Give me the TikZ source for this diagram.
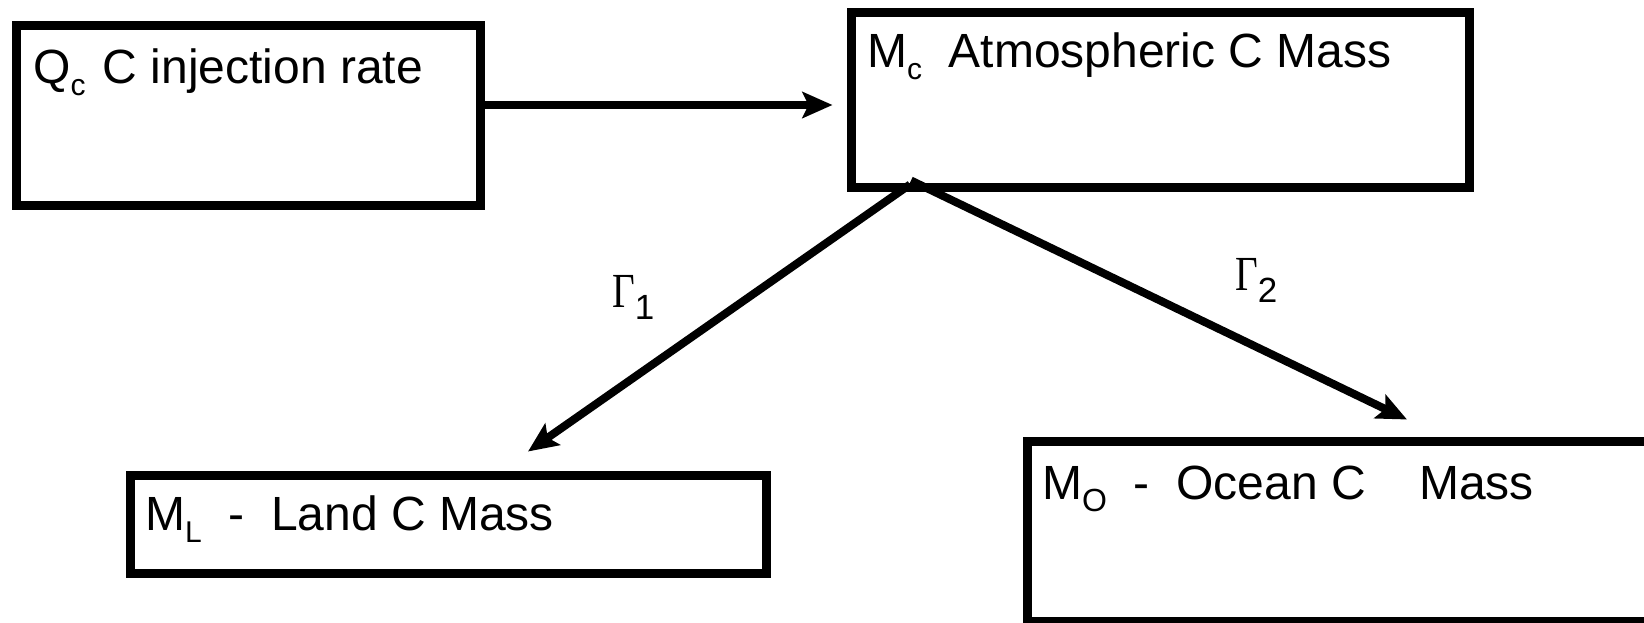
\documentclass[tikz,border=0pt]{standalone}
\usepackage{fontspec}
\setmainfont{Liberation Sans}
\newfontfamily\gamfont{Liberation Serif}
\usetikzlibrary{arrows.meta}
\newcommand{\lsub}[2][30]{\raisebox{-12pt}{\fontsize{#1}{#1}\selectfont #2}}
\newcommand{\gam}[1]{{\gamfont\fontsize{49}{49}\selectfont\scalebox{0.8}[1]{Γ}}\raisebox{-12.5pt}{\fontsize{35}{35}\selectfont #1}}
\begin{document}
\begin{tikzpicture}[x=1pt,y=-1pt,
  box/.style={draw, rectangle, line width=9pt, inner sep=0pt},
  txt/.style={anchor=base west, inner sep=0pt, font=\fontsize{48}{48}\selectfont},
  flow/.style={line width=8pt, -{Stealth[length=30pt,width=26pt,inset=6pt]}}
]
\useasboundingbox (0,0) rectangle (1644,622);
\clip (0,0) rectangle (1644,622);
\fill[white] (0,0) rectangle (1644,622);

\node[box, minimum width=464pt, minimum height=180pt] (q) at (248,115) {};
\node[box, minimum width=618pt, minimum height=175pt] (mc) at (1160,99.5) {};
\node[box, minimum width=636pt, minimum height=98pt] (ml) at (448,524) {};
\node[box, minimum width=660pt, minimum height=180pt] (mo) at (1357,531) {};

\node[txt] (qt) at (33,83) {Q\lsub{c}\kern4pt\ C injection rate};
\node[txt] (mct) at (867,67) {M\lsub{c}~~Atmospheric C Mass};
\node[txt] (mlt) at (145,530) {M\lsub{L}~~-~~Land C Mass};
\node[txt] (mot) at (1042,499) {M\lsub[32]{O}~~-~~Ocean C~~~~Mass};

\draw[flow] ([yshift=10pt]q.east) -- ([xshift=-14pt,yshift=-5.5pt]mc.west);
\draw[flow] ([xshift=-250pt,yshift=7pt]mc.south) -- ([xshift=80pt,yshift=19pt]ml.north);
\draw[flow] ([xshift=-249pt,yshift=11pt]mc.south) -- ([xshift=50pt,yshift=17pt]mo.north);

\node[txt] (g1) at (612,307) {\gam{1}};
\node[txt] (g2) at (1235,290) {\gam{2}};
\end{tikzpicture}
\end{document}
